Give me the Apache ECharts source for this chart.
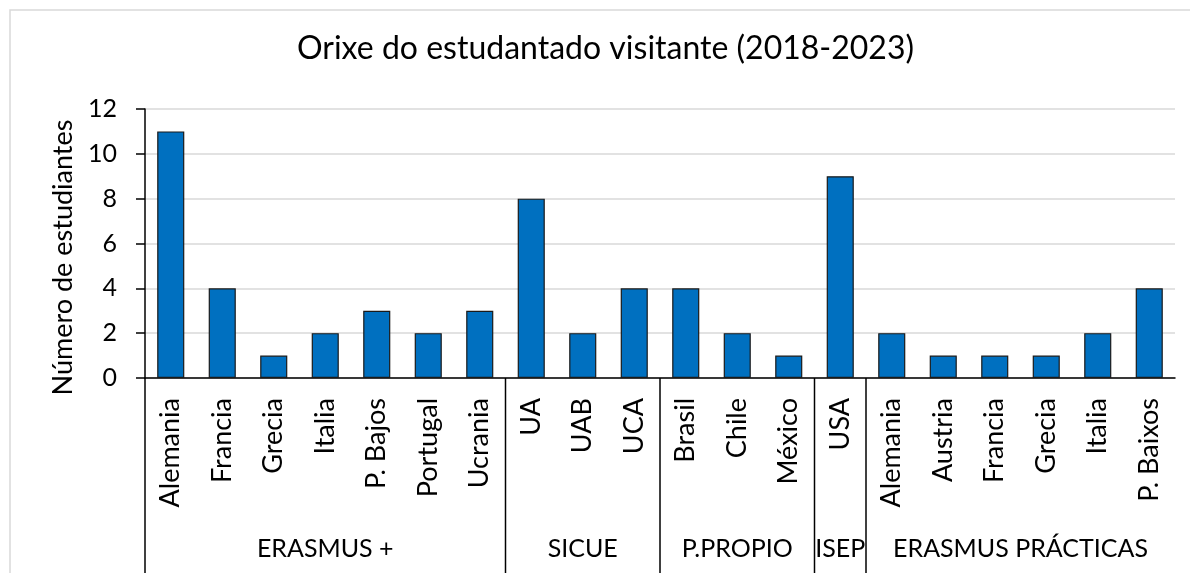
<!DOCTYPE html>
<html>
<head>
<meta charset="utf-8">
<script src="https://cdn.jsdelivr.net/npm/echarts@6/dist/echarts.min.js"></script>
<style>
html,body{margin:0;padding:0;background:#fff;}
#c{width:1190px;height:573px;}
</style>
</head>
<body>
<div id="c"></div>
<script>
const categories = ['Alemania','Francia','Grecia','Italia','P. Bajos','Portugal','Ucrania','UA','UAB','UCA','Brasil','Chile','México','USA','Alemania','Austria','Francia','Grecia','Italia','P. Baixos'];
const values = [11,4,1,2,3,2,3,8,2,4,4,2,1,9,2,1,1,1,2,4];
const groupNames = ['ERASMUS +','SICUE','P.PROPIO','ISEP','ERASMUS PRÁCTICAS'];
const groupStarts = [0,7,10,13,14];
const groupEnds = [7,10,13,14,20];
const yTicks = [0,2,4,6,8,10,12];

const FONT = 'Lato, "Open Sans", sans-serif';
const chart = echarts.init(document.getElementById('c'), null, {renderer:'canvas'});
const groupData = groupNames.map((n,i)=>[groupStarts[i], groupEnds[i], n]);

chart.setOption({
  animation:false,
  backgroundColor:'#fff',
  title:{
    text:'Orixe do estudantado visitante (2018-2023)',
    left:297, top:33, padding:0,
    textStyle:{fontFamily:FONT, fontSize:32, fontWeight:'normal', color:'#000'}
  },
  graphic:[{type:'rect', shape:{x:10,y:10,width:1300,height:700}, style:{fill:'none', stroke:'#d9d9d9', lineWidth:1.5}, silent:true, z:-10}],
  grid:{left:145, right:15, top:109, bottom:195, containLabel:false},
  xAxis:[{
    type:'category', data:categories, boundaryGap:true,
    axisLine:{lineStyle:{color:'#000', width:1.5}},
    axisTick:{show:false},
    axisLabel:{rotate:90, interval:0, margin:20, fontFamily:FONT, fontSize:27, color:'#000'}
  },{
    type:'value', min:0, max:20, show:false
  }],
  yAxis:{
    type:'value', min:yTicks[0], max:yTicks[yTicks.length-1], interval:2,
    name:'Número de estudiantes', nameLocation:'middle', nameGap:66,
    nameTextStyle:{fontFamily:FONT, fontSize:27, color:'#000', padding:[0,28,0,0]},
    axisLine:{show:true, lineStyle:{color:'#000', width:1.5}},
    axisTick:{show:true, length:9, lineStyle:{color:'#000', width:1.5}},
    axisLabel:{margin:28, fontFamily:FONT, fontSize:25, color:'#000'},
    splitLine:{lineStyle:{color:'#d9d9d9', width:1.5}}
  },
  series:[{
    type:'bar', data:values, xAxisIndex:0,
    barCategoryGap:'47.4%',
    itemStyle:{color:'#0070C0', borderColor:'#1a1a1a', borderWidth:1.2}
  },{
    type:'custom', xAxisIndex:1, yAxisIndex:0, clip:false, data:groupData,
    renderItem:function(params, api){
      const p0 = api.coord([api.value(0), 0]);
      const p1 = api.coord([api.value(1), 0]);
      const children = [{
        type:'line', shape:{x1:p0[0], y1:p0[1], x2:p0[0], y2:p0[1]+200},
        style:{stroke:'#000', lineWidth:1.5}
      },{
        type:'text', x:(p0[0]+p1[0])/2, y:p0[1]+171,
        style:{text:groupNames[params.dataIndex], fontFamily:FONT, fontSize:25, fill:'#000', align:'center', verticalAlign:'middle'}
      }];
      return {type:'group', children:children};
    }
  }]
});
</script>
</body>
</html>
